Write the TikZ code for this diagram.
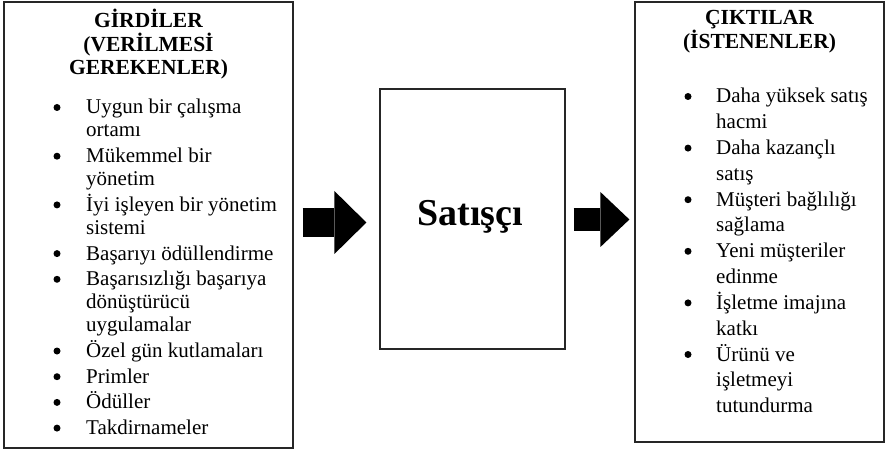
\documentclass[tikz,border=0pt]{standalone}
\usepackage{fontspec}
\setmainfont{Liberation Serif}
\usetikzlibrary{arrows.meta}

\tikzset{
	kutu/.style={draw=black!85, line width=1.2pt, inner sep=0pt},
	satir/.style={anchor=base west, inner sep=0pt, font=\fontsize{21}{23}\selectfont},
	madde/.style={circle, fill=black, inner sep=0pt, minimum size=7pt},
	baslik/.style={anchor=base, inner sep=0pt, font=\fontsize{21.5}{23}\selectfont\bfseries},
	kalinok/.style n args={3}{line width=#1, -{Triangle[length=#2, width=#3, line width=0pt]}}
}

\begin{document}
\begin{tikzpicture}[x=1pt, y=-1pt]
		\useasboundingbox	(0, 0) rectangle (886, 454);

		\node [kutu, minimum width=289, minimum height=446]	(gir) at (148.5, 225) {};
		\node [kutu, minimum width=185, minimum height=260]	(sat) at (472.5, 219) {};
		\node [kutu, minimum width=249, minimum height=440]	(cik) at (759.5, 222) {};

		\node [baslik]	(girb1) at (148.5, 28) {GİRDİLER};
		\node [baslik]	(girb2) at (148.5, 51.5) {(VERİLMESİ};
		\node [baslik]	(girb3) at (148.5, 74.5) {GEREKENLER)};

		\node [baslik]	(cikb1) at (759.5, 25) {ÇIKTILAR};
		\node [baslik]	(cikb2) at (759.5, 49) {(İSTENENLER)};

		\node [anchor=base, inner sep=0pt, font=\fontsize{38}{40}\selectfont\bfseries]	(satici) at (470, 226) {Satışçı};

		\foreach \y/\t/\m [count=\i] in {114/Uygun bir çalışma/1, 137/ortamı/0,
				162.7/Mükemmel bir/1, 185.7/yönetim/0,
				211.4/İyi işleyen bir yönetim/1, 234.4/sistemi/0,
				260.1/Başarıyı ödüllendirme/1,
				285.8/Başarısızlığı başarıya/1, 308.8/dönüştürücü/0, 331.8/uygulamalar/0,
				357.5/Özel gün kutlamaları/1, 383.2/Primler/1,
				408.9/Ödüller/1, 434.6/Takdirnameler/1}
		{
			\node [satir]	(sol\i) at (86, \y) {\t};
			\ifnum\m=1 \node [madde]	(solm\i) at (57, \y-6.5) {}; \fi
		}

		\foreach \y/\t/\m [count=\i] in {103/Daha yüksek satış/1, 128.8/hacmi/0,
				154.6/Daha kazançlı/1, 180.4/satış/0,
				206.2/Müşteri bağlılığı/1, 232/sağlama/0,
				257.8/Yeni müşteriler/1, 283.6/edinme/0,
				309.4/İşletme imajına/1, 335.2/katkı/0,
				361/Ürünü ve/1, 386.8/işletmeyi/0, 412.6/tutundurma/0}
		{
			\node [satir]	(sag\i) at (716, \y) {\t};
			\ifnum\m=1 \node [madde]	(sagm\i) at (688, \y-6.5) {}; \fi
		}

		\draw [kalinok={29pt}{32pt}{63pt}]	([xshift=9pt, yshift=2.5pt]gir.east) to ([xshift=-13pt, yshift=-3.5pt]sat.west);
		\draw [kalinok={23pt}{29pt}{55pt}]	([xshift=8pt, yshift=-0.5pt]sat.east) to ([xshift=-5pt, yshift=2.5pt]cik.west);
	\end{tikzpicture}
\end{document}
